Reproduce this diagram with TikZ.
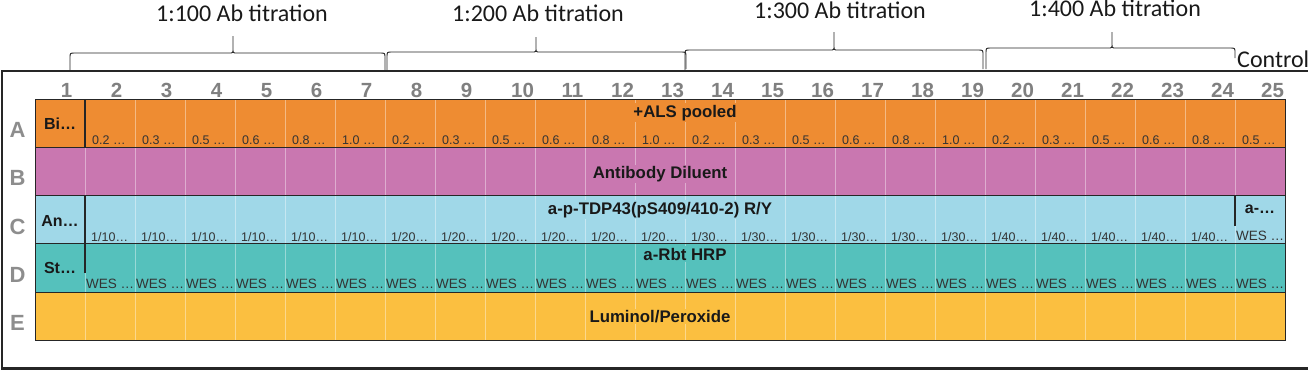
\documentclass[tikz,border=0pt]{standalone}
\usepackage{fontspec}
\setmainfont{Liberation Sans}
\newfontfamily\calfont{Carlito}
\definecolor{cA}{RGB}{238,140,50}
\definecolor{cB}{RGB}{201,119,176}
\definecolor{cC}{RGB}{160,216,232}
\definecolor{cD}{RGB}{85,193,188}
\definecolor{cE}{RGB}{251,191,64}
\definecolor{numgray}{RGB}{128,128,128}
\newcommand\mybrace[7]{%
  \draw[bracepath] (#1,#4) -- (#1,#6+5) .. controls (#1,#6) .. (#1+5,#6)
    -- (#2-4,#6) .. controls (#2,#6) .. (#2,#6-4) -- (#2,#7)
    -- (#2,#6-4) .. controls (#2,#6) .. (#2+4,#6)
    -- (#3-5,#6) .. controls (#3,#6) .. (#3,#6+5) -- (#3,#5);}
\begin{document}
\begin{tikzpicture}[x=1pt,y=-1pt,
  rowline/.style={draw=black!85, line width=1pt},
  gridline/.style={draw=white, draw opacity=0.4, line width=0.8pt},
  darkline/.style={draw=black!85, line width=1.1pt},
  bracepath/.style={draw=black!85, line width=0.9pt},
  title/.style={font=\calfont\fontsize{24}{26}\selectfont, anchor=base, inner sep=0pt, text=black!90},
  ctitle/.style={font=\calfont\fontsize{24}{26}\selectfont, anchor=base west, inner sep=0pt, text=black!90},
  colnum/.style={font=\bfseries\fontsize{20.5}{22}\selectfont, text=numgray, anchor=base, inner sep=0pt},
  rowlet/.style={font=\bfseries\fontsize{22}{24}\selectfont, text=numgray!90, anchor=base, inner sep=0pt},
  merged/.style={font=\bfseries\fontsize{16.8}{18}\selectfont, anchor=base, inner sep=1.5pt, text=black!90},
  celllab/.style={font=\bfseries\fontsize{16}{18}\selectfont, anchor=base, inner sep=0pt, text=black!90},
  smalltxt/.style={font=\fontsize{12.5}{13}\selectfont, anchor=base west, inner sep=0pt, text=black!80},
  westxt/.style={font=\fontsize{13.5}{14}\selectfont, anchor=base west, inner sep=0pt, text=black!80}]
\useasboundingbox (0,0) rectangle (1308,373);
\clip (0,0) rectangle (1308,373);
% outer frame
\draw[black!85, line width=1.5pt] (1310,71) -- (2,71) -- (2,368.5);
\draw[black!85, line width=2.5pt] (1,368.5) -- (1310,368.5);
% titles and braces
\node[title] (t1) at (242,21.5) {1:100 Ab titration};
\node[title] (t2) at (538,21) {1:200 Ab titration};
\node[title] (t3) at (840,18) {1:300 Ab titration};
\node[title] (t4) at (1115,16.7) {1:400 Ab titration};
\node[ctitle] (tc) at (1237,67) {Control};
\mybrace{70}{233}{385}{71}{71}{53}{36}
\mybrace{387}{536}{686}{71}{69}{52}{37}
\mybrace{685}{834}{983}{70}{69}{50}{32}
\mybrace{986}{1112}{1235}{69}{58}{48}{32}
% rows
\foreach \c [count=\i from 0] in {cA,cB,cC,cD,cE}
  \fill[\c] (35,{99+48.3*\i}) rectangle (1285,{99+48.3*(\i+1)});
\foreach \k in {1,...,24}
  \draw[gridline] ({35+50*\k},99) -- ({35+50*\k},340.5);
\foreach \i in {0,...,5}
  \draw[rowline] (35,{99+48.3*\i}) -- (1285,{99+48.3*\i});
\draw[rowline] (35,99) -- (35,340.5);
\draw[rowline] (1285,99) -- (1285,340.5);
\draw[darkline] (85,99) -- (85,147.3);
\draw[darkline] (85,195.6) -- (85,273);
\draw[darkline] (1235,195.6) -- (1235,226);
% column numbers
\foreach \k in {1,...,25}{
  \pgfmathsetmacro\off{\k<10 ? 6.5 : 12.5}
  \node[colnum] (cn\k) at ({35+50*(\k-0.5)+\off},97.5) {\k};
}
% row letters
\foreach \L [count=\i from 0] in {A,B,C,D,E}
  \node[rowlet] (rl\L) at (17.5,{99+48.3*\i+38.6}) {\L};
% merged labels
\node[merged, fill=cA] (als) at (685,117) {+ALS pooled};
\node[merged, fill=cB] (dil) at (660,178.3) {Antibody Diluent};
\node[merged, fill=cC] (tdp) at (660,214) {a-p-TDP43(pS409/410-2) R/Y};
\node[merged, fill=cD] (hrp) at (685,260) {a-Rbt HRP};
\node[merged, fill=cE] (lum) at (660,322.3) {Luminol/Peroxide};
% cell labels
\node[celllab] (bi) at (60,129.3) {Bi…};
\node[celllab] (an) at (60,226.7) {An…};
\node[celllab] (st) at (60,273.3) {St…};
\node[celllab] (aa) at (1260,213.3) {a-…};
% small texts
\foreach \v [count=\k from 2] in {0.2,0.3,0.5,0.6,0.8,1.0,0.2,0.3,0.5,0.6,0.8,1.0,0.2,0.3,0.5,0.6,0.8,1.0,0.2,0.3,0.5,0.6,0.8,0.5}
  \node[smalltxt] (sa\k) at ({35+50*(\k-1)+7},144.3) {\v{} …};
\foreach \v [count=\k from 2] in {1/10,1/10,1/10,1/10,1/10,1/10,1/20,1/20,1/20,1/20,1/20,1/20,1/30,1/30,1/30,1/30,1/30,1/30,1/40,1/40,1/40,1/40,1/40}
  \node[smalltxt] (sc\k) at ({35+50*(\k-1)+6},241.2) {\v…};
\node[westxt] (sc25) at (1236,240.5) {WES …};
\foreach \k in {2,...,25}
  \node[westxt] (sd\k) at ({35+50*(\k-1)+1},288.5) {WES …};
\end{tikzpicture}
\end{document}
